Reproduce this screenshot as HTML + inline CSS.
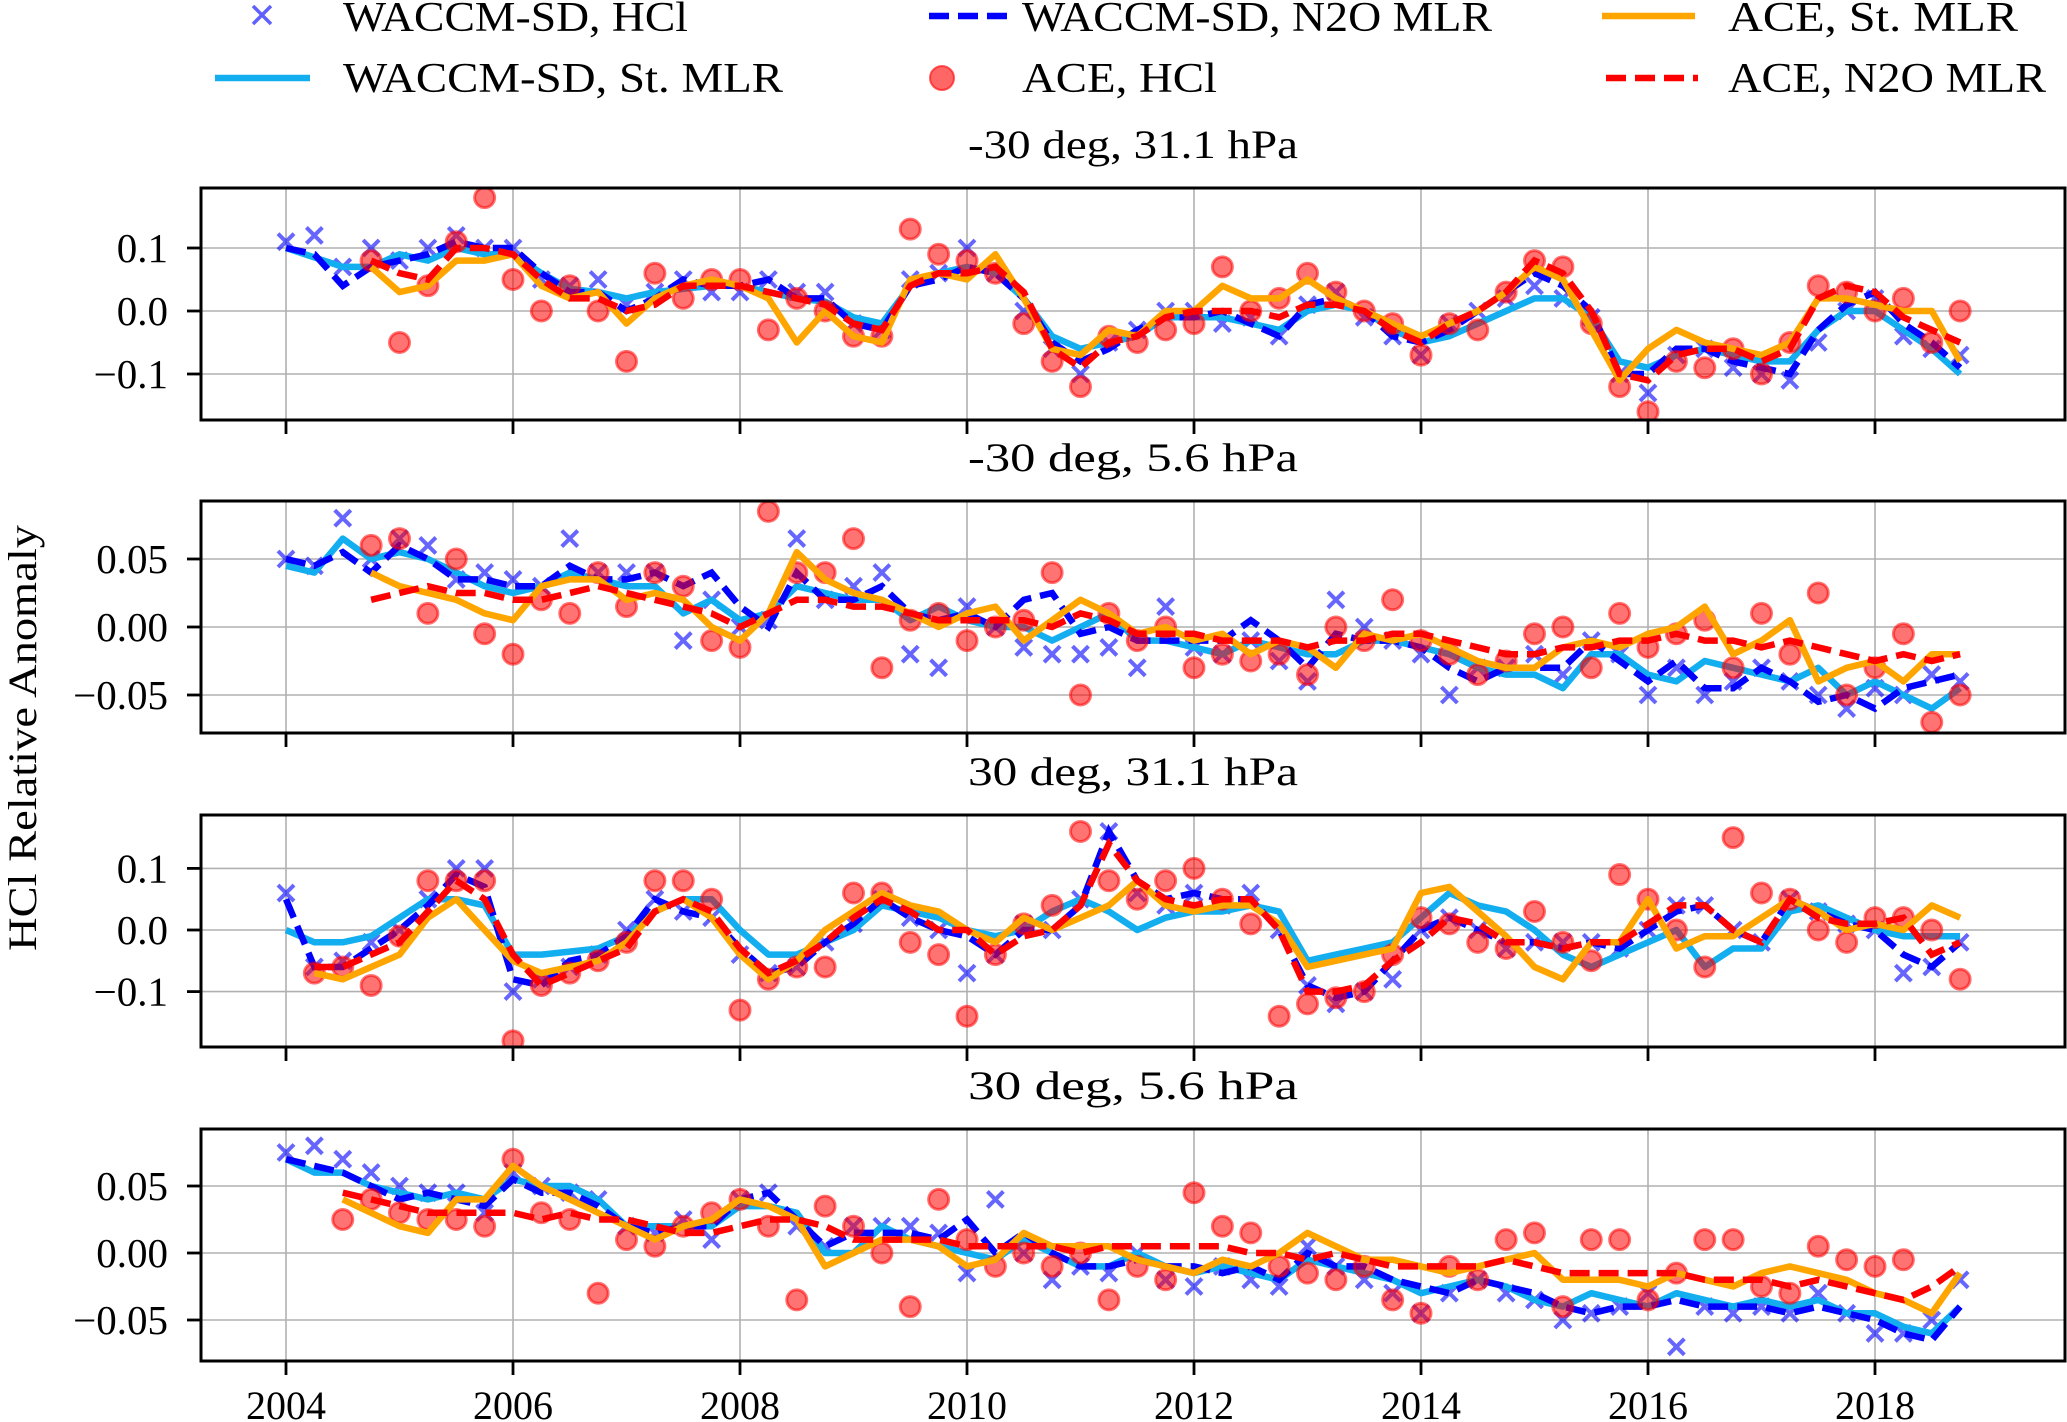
<!DOCTYPE html>
<html><head><meta charset="utf-8"><style>
html,body{margin:0;padding:0;background:#fff;}
svg{display:block;font-family:"Liberation Serif",serif;}
</style></head><body>
<svg id="chart" width="2067" height="1422" viewBox="0 0 2067 1422" xmlns="http://www.w3.org/2000/svg">
<g id="legend">
  <g>
    <path d="M253,6 L271,24 M271,6 L253,24" stroke="#6060ff" stroke-width="3.5"/>
    <text x="343" y="31" font-size="42" textLength="345" lengthAdjust="spacingAndGlyphs">WACCM-SD, HCl</text>
  </g>
  <g>
    <line x1="929" y1="16" x2="1008" y2="16" stroke="#0000ff" stroke-width="6.5" stroke-dasharray="20,9"/>
    <text x="1022" y="31" font-size="42" textLength="470" lengthAdjust="spacingAndGlyphs">WACCM-SD, N2O MLR</text>
  </g>
  <g>
    <line x1="1602" y1="16" x2="1695" y2="16" stroke="#ffa500" stroke-width="6.5"/>
    <text x="1728" y="31" font-size="42" textLength="290" lengthAdjust="spacingAndGlyphs">ACE, St. MLR</text>
  </g>
  <g>
    <line x1="215" y1="78" x2="310" y2="78" stroke="#12aef0" stroke-width="6.5"/>
    <text x="343" y="92" font-size="42" textLength="440" lengthAdjust="spacingAndGlyphs">WACCM-SD, St. MLR</text>
  </g>
  <g>
    <circle cx="942" cy="78" r="12" fill="rgba(255,0,0,0.6)" stroke="rgba(255,0,0,0.6)" stroke-width="2"/>
    <text x="1022" y="92" font-size="42" textLength="195" lengthAdjust="spacingAndGlyphs">ACE, HCl</text>
  </g>
  <g>
    <line x1="1606" y1="78" x2="1698" y2="78" stroke="#ff0000" stroke-width="6.5" stroke-dasharray="20,9"/>
    <text x="1728" y="92" font-size="42" textLength="318" lengthAdjust="spacingAndGlyphs">ACE, N2O MLR</text>
  </g>
</g>
<text transform="translate(36,738) rotate(-90)" text-anchor="middle" font-size="40" textLength="426" lengthAdjust="spacingAndGlyphs">HCl Relative Anomaly</text>
<g id="plots"></g>
</svg>
<script>
// ---- shared data ----
const xTicks = [2004, 2006, 2008, 2010, 2012, 2014, 2016, 2018];
const panelTitles = ["-30 deg, 31.1 hPa", "-30 deg, 5.6 hPa", "30 deg, 31.1 hPa", "30 deg, 5.6 hPa"];
const yTicks1 = [0.1, 0.0, -0.1];
const yTickLabels1 = ["0.1", "0.0", "\u22120.1"];
const yTicks2 = [0.05, 0.0, -0.05];
const yTickLabels2 = ["0.05", "0.00", "\u22120.05"];
const startWaccm = 2004.0;
const step = 0.25;

// ---- panel 1: -30 deg, 31.1 hPa ----
const p1WaccmHCl = [0.11,0.12,0.07,0.1,0.08,0.1,0.12,0.1,0.1,0.05,0.04,0.05,0.01,0.03,0.05,0.03,0.03,0.05,0.03,0.03,-0.02,-0.03,0.05,0.06,0.1,0.06,0.0,-0.06,-0.1,-0.05,-0.03,0.0,0.0,-0.02,-0.01,-0.04,0.01,0.03,-0.01,-0.04,-0.07,-0.02,0.0,0.02,0.04,0.02,-0.01,-0.1,-0.13,-0.07,-0.06,-0.09,-0.1,-0.11,-0.05,0.0,0.02,-0.04,-0.06,-0.07];
const p1WaccmSt = [0.10,0.085,0.07,0.07,0.09,0.08,0.1,0.09,0.09,0.06,0.035,0.03,0.02,0.03,0.035,0.04,0.04,0.03,0.02,0.015,-0.01,-0.02,0.04,0.06,0.07,0.06,0.02,-0.04,-0.06,-0.05,-0.04,-0.01,-0.01,-0.01,-0.02,-0.03,0.0,0.01,0.0,-0.03,-0.05,-0.04,-0.02,0.0,0.02,0.02,-0.01,-0.08,-0.09,-0.07,-0.06,-0.07,-0.08,-0.08,-0.03,0.0,0.0,-0.03,-0.06,-0.1];
const p1WaccmN2O = [0.10,0.09,0.04,0.07,0.08,0.09,0.11,0.1,0.1,0.06,0.03,0.03,0.0,0.02,0.05,0.04,0.04,0.05,0.02,0.02,-0.02,-0.03,0.04,0.05,0.07,0.06,0.02,-0.05,-0.08,-0.06,-0.03,-0.01,-0.01,0.0,-0.02,-0.04,0.01,0.02,0.0,-0.04,-0.05,-0.03,0.0,0.03,0.06,0.04,0.0,-0.1,-0.1,-0.06,-0.06,-0.08,-0.09,-0.1,-0.03,0.01,0.03,-0.02,-0.05,-0.09];
const p1AceStart = 2004.75;
const p1AceSt = [0.07,0.03,0.04,0.08,0.08,0.09,0.04,0.02,0.03,-0.02,0.02,0.04,0.05,0.04,0.02,-0.05,0.0,-0.04,-0.05,0.05,0.06,0.05,0.09,0.02,-0.06,-0.07,-0.03,-0.04,0.0,0.0,0.04,0.02,0.02,0.05,0.02,0.0,-0.02,-0.04,-0.02,0.0,0.03,0.07,0.05,-0.03,-0.11,-0.06,-0.03,-0.05,-0.06,-0.07,-0.05,0.02,0.02,0.01,0.0,0.0,-0.08];
const p1AceN2O = [0.08,0.06,0.05,0.1,0.1,0.09,0.05,0.02,0.02,0.0,0.01,0.04,0.04,0.04,0.03,0.02,0.01,-0.02,-0.03,0.04,0.06,0.06,0.07,0.03,-0.06,-0.09,-0.05,-0.04,-0.01,0.0,0.0,0.0,-0.01,0.01,0.01,0.0,-0.03,-0.05,-0.02,0.0,0.03,0.08,0.06,0.0,-0.1,-0.11,-0.07,-0.06,-0.06,-0.08,-0.06,0.02,0.04,0.03,-0.01,-0.03,-0.05];
const p1AceHCl = [0.08,-0.05,0.04,0.11,0.18,0.05,0.0,0.04,0.0,-0.08,0.06,0.02,0.05,0.05,-0.03,0.02,0.0,-0.04,-0.04,0.13,0.09,0.08,0.06,-0.02,-0.08,-0.12,-0.04,-0.05,-0.03,-0.02,0.07,0.0,0.02,0.06,0.03,0.0,-0.02,-0.07,-0.02,-0.03,0.03,0.08,0.07,-0.02,-0.12,-0.16,-0.08,-0.09,-0.06,-0.1,-0.05,0.04,0.03,0.0,0.02,-0.05,0.0];

// ---- panel 2: -30 deg, 5.6 hPa ----
const p2WaccmHCl = [0.05,0.045,0.08,0.05,0.065,0.06,0.035,0.04,0.035,0.03,0.065,0.04,0.04,0.04,-0.01,0.02,0.0,0.005,0.065,0.02,0.03,0.04,-0.02,-0.03,0.015,0.0,-0.015,-0.02,-0.02,-0.015,-0.03,0.015,-0.015,-0.02,-0.01,-0.025,-0.04,0.02,0.0,-0.01,-0.02,-0.05,-0.03,-0.03,-0.02,-0.035,-0.01,-0.02,-0.05,-0.03,-0.05,-0.04,-0.03,-0.04,-0.05,-0.06,-0.045,-0.05,-0.035,-0.04];
const p2WaccmSt = [0.045,0.04,0.065,0.05,0.055,0.05,0.04,0.03,0.025,0.03,0.04,0.035,0.03,0.03,0.01,0.02,0.005,0.01,0.03,0.025,0.02,0.02,0.005,0.015,0.005,0.0,0.0,-0.01,0.0,0.01,-0.01,-0.01,-0.015,-0.02,-0.01,-0.015,-0.02,-0.02,-0.01,-0.01,-0.015,-0.02,-0.03,-0.035,-0.035,-0.045,-0.02,-0.02,-0.035,-0.04,-0.025,-0.03,-0.035,-0.04,-0.03,-0.05,-0.04,-0.05,-0.06,-0.045];
const p2WaccmN2O = [0.05,0.045,0.055,0.04,0.06,0.05,0.035,0.035,0.03,0.03,0.045,0.035,0.035,0.04,0.03,0.04,0.015,0.0,0.04,0.02,0.02,0.03,0.01,0.005,0.01,0.0,0.02,0.025,-0.005,0.0,-0.01,-0.01,-0.01,-0.01,0.005,-0.01,-0.03,-0.005,-0.01,-0.01,-0.015,-0.03,-0.04,-0.03,-0.03,-0.03,-0.01,-0.025,-0.04,-0.025,-0.045,-0.045,-0.03,-0.04,-0.055,-0.05,-0.06,-0.045,-0.04,-0.035];
const p2AceStart = 2004.75;
const p2AceSt = [0.04,0.03,0.025,0.02,0.01,0.005,0.03,0.035,0.035,0.02,0.025,0.02,0.0,-0.01,0.01,0.055,0.035,0.025,0.02,0.01,0.0,0.01,0.015,-0.01,0.005,0.02,0.01,-0.005,0.0,-0.01,-0.005,-0.02,-0.01,-0.015,-0.03,-0.005,-0.01,-0.005,-0.015,-0.025,-0.03,-0.03,-0.015,-0.01,-0.015,-0.005,0.0,0.015,-0.02,-0.01,0.005,-0.04,-0.03,-0.025,-0.04,-0.02,-0.02];
const p2AceN2O = [0.02,0.025,0.03,0.025,0.025,0.02,0.02,0.025,0.03,0.025,0.02,0.015,0.01,0.0,0.01,0.02,0.02,0.015,0.015,0.01,0.005,0.005,0.005,0.005,0.0,0.01,0.005,-0.005,-0.005,-0.005,-0.01,-0.01,-0.01,-0.015,-0.01,-0.01,-0.005,-0.005,-0.01,-0.015,-0.02,-0.02,-0.015,-0.015,-0.01,-0.01,-0.005,-0.01,-0.01,-0.015,-0.01,-0.015,-0.02,-0.025,-0.02,-0.025,-0.02];
const p2AceHCl = [0.06,0.065,0.01,0.05,-0.005,-0.02,0.02,0.01,0.04,0.015,0.04,0.03,-0.01,-0.015,0.085,0.04,0.04,0.065,-0.03,0.005,0.01,-0.01,0.0,0.005,0.04,-0.05,0.01,-0.01,0.0,-0.03,-0.02,-0.025,-0.02,-0.035,0.0,-0.01,0.02,-0.01,-0.02,-0.035,-0.025,-0.005,0.0,-0.03,0.01,-0.015,-0.005,0.005,-0.03,0.01,-0.02,0.025,-0.05,-0.03,-0.005,-0.07,-0.05];

// ---- panel 3: 30 deg, 31.1 hPa ----
const p3WaccmHCl = [0.06,-0.06,-0.05,-0.02,0.0,0.05,0.1,0.1,-0.1,-0.08,-0.06,-0.04,0.0,0.05,0.03,0.02,-0.04,-0.07,-0.06,-0.02,0.01,0.05,0.02,0.0,-0.07,-0.04,0.01,0.0,0.05,0.16,0.06,0.04,0.06,0.04,0.06,0.0,-0.09,-0.12,-0.1,-0.08,0.0,0.02,0.0,-0.03,-0.02,-0.02,-0.02,-0.03,0.0,0.04,0.04,0.0,-0.02,0.05,0.03,0.01,0.0,-0.07,-0.06,-0.02];
const p3WaccmSt = [0.0,-0.02,-0.02,-0.01,0.02,0.05,0.05,0.04,-0.04,-0.04,-0.035,-0.03,-0.01,0.03,0.05,0.05,0.0,-0.04,-0.04,-0.02,0.0,0.04,0.03,0.02,0.0,-0.01,0.0,0.03,0.05,0.03,0.0,0.02,0.03,0.03,0.04,0.03,-0.05,-0.04,-0.03,-0.02,0.02,0.06,0.04,0.03,0.0,-0.04,-0.06,-0.04,-0.02,0.0,-0.06,-0.03,-0.03,0.03,0.04,0.02,0.0,-0.01,-0.01,-0.01];
const p3WaccmN2O = [0.05,-0.06,-0.06,-0.03,0.0,0.04,0.09,0.07,-0.08,-0.09,-0.05,-0.04,-0.01,0.05,0.03,0.02,-0.03,-0.07,-0.06,-0.02,0.01,0.05,0.02,0.0,-0.01,-0.04,0.0,0.0,0.04,0.16,0.08,0.05,0.06,0.05,0.05,0.0,-0.09,-0.11,-0.1,-0.05,0.0,0.02,0.0,-0.02,-0.02,-0.03,-0.02,-0.03,0.0,0.03,0.04,0.0,-0.02,0.05,0.03,0.01,0.0,-0.04,-0.06,-0.02];
const p3AceStart = 2004.25;
const p3AceSt = [-0.07,-0.08,-0.06,-0.04,0.02,0.05,0.0,-0.05,-0.07,-0.06,-0.05,-0.02,0.03,0.05,0.02,-0.04,-0.08,-0.05,0.0,0.03,0.06,0.04,0.03,0.0,-0.02,0.02,0.0,0.02,0.04,0.08,0.04,0.03,0.04,0.04,0.01,-0.06,-0.05,-0.04,-0.03,0.06,0.07,0.03,-0.01,-0.06,-0.08,-0.02,-0.02,0.05,-0.03,-0.01,-0.01,0.02,0.05,0.03,0.0,0.01,0.0,0.04,0.02];
const p3AceN2O = [-0.06,-0.06,-0.04,-0.02,0.03,0.08,0.05,-0.04,-0.09,-0.07,-0.05,-0.03,0.03,0.05,0.03,-0.03,-0.07,-0.05,-0.02,0.02,0.05,0.03,0.0,0.0,-0.04,-0.01,0.0,0.04,0.14,0.08,0.05,0.04,0.05,0.05,0.0,-0.1,-0.1,-0.09,-0.05,-0.02,0.02,0.01,-0.02,-0.02,-0.03,-0.02,-0.02,0.01,0.04,0.04,0.0,-0.02,0.05,0.02,0.01,0.01,0.02,-0.04,-0.02];
const p3AceHCl = [-0.07,-0.06,-0.09,-0.01,0.08,0.08,0.08,-0.18,-0.09,-0.07,-0.05,-0.02,0.08,0.08,0.05,-0.13,-0.08,-0.06,-0.06,0.06,0.06,-0.02,-0.04,-0.14,-0.04,0.01,0.04,0.16,0.08,0.05,0.08,0.1,0.05,0.01,-0.14,-0.12,-0.11,-0.1,-0.04,0.02,0.01,-0.02,-0.03,0.03,-0.02,-0.05,0.09,0.05,0.0,-0.06,0.15,0.06,0.05,0.0,-0.02,0.02,0.02,0.0,-0.08];

// ---- panel 4: 30 deg, 5.6 hPa ----
const p4WaccmHCl = [0.075,0.08,0.07,0.06,0.05,0.045,0.045,0.03,0.06,0.05,0.045,0.04,0.02,0.015,0.025,0.01,0.04,0.045,0.02,0.005,0.02,0.02,0.02,0.015,-0.015,0.04,0.0,-0.02,-0.01,-0.015,0.0,-0.02,-0.025,-0.01,-0.02,-0.025,0.005,-0.01,-0.02,-0.03,-0.045,-0.03,-0.02,-0.03,-0.035,-0.05,-0.045,-0.04,-0.03,-0.07,-0.04,-0.045,-0.04,-0.045,-0.03,-0.045,-0.06,-0.06,-0.05,-0.02];
const p4WaccmSt = [0.07,0.06,0.06,0.05,0.045,0.04,0.045,0.04,0.055,0.05,0.05,0.04,0.02,0.02,0.02,0.02,0.035,0.035,0.03,0.0,0.0,0.02,0.01,0.005,0.0,-0.005,0.01,0.0,-0.01,-0.01,0.0,-0.01,-0.015,-0.01,-0.015,-0.02,-0.005,-0.01,-0.015,-0.02,-0.03,-0.025,-0.02,-0.025,-0.035,-0.04,-0.03,-0.035,-0.04,-0.03,-0.035,-0.04,-0.035,-0.04,-0.035,-0.045,-0.045,-0.055,-0.06,-0.04];
const p4WaccmN2O = [0.07,0.065,0.06,0.05,0.04,0.045,0.04,0.035,0.055,0.045,0.045,0.035,0.02,0.015,0.02,0.02,0.04,0.045,0.025,0.005,0.015,0.015,0.015,0.01,0.025,0.0,0.015,0.0,-0.01,-0.01,-0.005,-0.01,-0.01,-0.015,-0.01,-0.02,0.0,-0.01,-0.01,-0.02,-0.025,-0.03,-0.02,-0.025,-0.03,-0.04,-0.045,-0.04,-0.04,-0.035,-0.04,-0.04,-0.04,-0.045,-0.04,-0.045,-0.05,-0.06,-0.065,-0.04];
const p4AceStart = 2004.5;
const p4AceSt = [0.04,0.03,0.02,0.015,0.04,0.04,0.065,0.05,0.04,0.03,0.02,0.01,0.02,0.025,0.04,0.035,0.025,-0.01,0.0,0.01,0.01,0.005,-0.01,-0.005,0.015,0.005,0.005,0.005,-0.005,-0.01,-0.015,-0.005,-0.01,0.0,0.015,0.005,-0.005,-0.005,-0.01,-0.015,-0.01,-0.005,0.0,-0.02,-0.02,-0.02,-0.025,-0.015,-0.02,-0.025,-0.015,-0.01,-0.015,-0.02,-0.03,-0.035,-0.045,-0.015];
const p4AceN2O = [0.045,0.04,0.035,0.03,0.03,0.03,0.03,0.025,0.03,0.025,0.025,0.02,0.015,0.015,0.02,0.025,0.025,0.02,0.01,0.01,0.01,0.01,0.005,0.005,0.005,0.005,0.0,0.005,0.005,0.005,0.005,0.005,0.0,0.0,-0.005,0.0,-0.005,-0.01,-0.01,-0.01,-0.01,-0.005,-0.01,-0.015,-0.015,-0.015,-0.015,-0.015,-0.02,-0.02,-0.02,-0.025,-0.02,-0.025,-0.03,-0.035,-0.025,-0.01];
const p4AceHCl = [0.025,0.04,0.03,0.025,0.025,0.02,0.07,0.03,0.025,-0.03,0.01,0.005,0.02,0.03,0.04,0.02,-0.035,0.035,0.02,0.0,-0.04,0.04,0.01,-0.01,0.0,-0.01,0.0,-0.035,-0.01,-0.02,0.045,0.02,0.015,-0.01,-0.015,-0.02,-0.01,-0.035,-0.045,-0.01,-0.02,0.01,0.015,-0.04,0.01,0.01,-0.035,-0.015,0.01,0.01,-0.025,-0.03,0.005,-0.005,-0.01,-0.005];

// ---- layout (not data) ----
const NS = "http://www.w3.org/2000/svg";
const XL = 201, XR = 2065;
const xScale = t => 286 + (t - 2004) * 113.5;
const panels = [
  {top:188, bot:420, y0:311, k:630, ticks:yTicks1, labels:yTickLabels1, w:p1WaccmHCl, s:p1WaccmSt, n:p1WaccmN2O, as:p1AceStart, aSt:p1AceSt, aN:p1AceN2O, aH:p1AceHCl},
  {top:501, bot:733, y0:627, k:1360, ticks:yTicks2, labels:yTickLabels2, w:p2WaccmHCl, s:p2WaccmSt, n:p2WaccmN2O, as:p2AceStart, aSt:p2AceSt, aN:p2AceN2O, aH:p2AceHCl},
  {top:815, bot:1047, y0:930, k:616, ticks:yTicks1, labels:yTickLabels1, w:p3WaccmHCl, s:p3WaccmSt, n:p3WaccmN2O, as:p3AceStart, aSt:p3AceSt, aN:p3AceN2O, aH:p3AceHCl},
  {top:1129, bot:1361, y0:1253, k:1340, ticks:yTicks2, labels:yTickLabels2, w:p4WaccmHCl, s:p4WaccmSt, n:p4WaccmN2O, as:p4AceStart, aSt:p4AceSt, aN:p4AceN2O, aH:p4AceHCl}
];
function mk(tag, attrs, parent){
  const e = document.createElementNS(NS, tag);
  for (const k in attrs) e.setAttribute(k, attrs[k]);
  parent.appendChild(e);
  return e;
}
function linePath(vals, start, ys){
  return vals.map((v,i)=>(i?"L":"M")+xScale(start+i*step).toFixed(1)+","+ys(v).toFixed(1)).join(" ");
}
const root = document.getElementById("plots");
panels.forEach((p, pi) => {
  const ys = v => p.y0 - v * p.k;
  const g = mk("g", {}, root);
  
  
  const title = mk("text", {x:(XL+XR)/2, y:p.top-30, "text-anchor":"middle", "font-size":"40", textLength:"330", lengthAdjust:"spacingAndGlyphs"}, g);
  title.textContent = panelTitles[pi];
  
  
  const clip = mk("clipPath", {id:"clip"+pi}, g);
  mk("rect", {x:XL, y:p.top, width:XR-XL, height:p.bot-p.top}, clip);
  xTicks.forEach(t => {
    const gl = mk("line", {x1:xScale(t), x2:xScale(t), y1:p.top, y2:p.bot, stroke:"#b0b0b0", "stroke-width":"1.6"}, g);
    
    
    const tk = mk("line", {x1:xScale(t), x2:xScale(t), y1:p.bot, y2:p.bot+14, stroke:"#000", "stroke-width":"2.8"}, g);
    
    
    if (pi === 3) {
      const lb = mk("text", {x:xScale(t), y:1419, "text-anchor":"middle", "font-size":"40"}, g);
      lb.textContent = t;
      
      
    }
  });
  p.ticks.forEach((v, i) => {
    const gl = mk("line", {x1:XL, x2:XR, y1:ys(v), y2:ys(v), stroke:"#b0b0b0", "stroke-width":"1.6"}, g);
    
    
    const tk = mk("line", {x1:XL-14, x2:XL, y1:ys(v), y2:ys(v), stroke:"#000", "stroke-width":"2.8"}, g);
    
    
    const lb = mk("text", {x:168, y:ys(v)+14, "text-anchor":"end", "font-size":"41"}, g);
    lb.textContent = p.labels[i];
    
    
  });
  const data = mk("g", {"clip-path":"url(#clip"+pi+")"}, g);
  
  
  p.w.forEach((v, i) => {
    const cx = xScale(startWaccm + i*step), cy = ys(v);
    const m = mk("path", {d:`M${cx-8},${cy-8} L${cx+8},${cy+8} M${cx+8},${cy-8} L${cx-8},${cy+8}`, stroke:"rgba(0,0,255,0.6)", "stroke-width":"4"}, data);
    
    
  });
  const l1 = mk("path", {d:linePath(p.s, startWaccm, ys), fill:"none", stroke:"#12aef0", "stroke-width":"6.5", "stroke-linejoin":"round"}, data);
  
  
  const l2 = mk("path", {d:linePath(p.n, startWaccm, ys), fill:"none", stroke:"#0000ff", "stroke-width":"6.5", "stroke-dasharray":"20,9"}, data);
  
  
  p.aH.forEach((v, i) => {
    const c = mk("circle", {cx:xScale(p.as + i*step), cy:ys(v), r:"10", fill:"rgba(255,0,0,0.55)", stroke:"rgba(255,0,0,0.55)", "stroke-width":"3"}, data);
    
    
  });
  const l3 = mk("path", {d:linePath(p.aSt, p.as, ys), fill:"none", stroke:"#ffa500", "stroke-width":"6.5", "stroke-linejoin":"round"}, data);
  
  
  const l4 = mk("path", {d:linePath(p.aN, p.as, ys), fill:"none", stroke:"#ff0000", "stroke-width":"6.5", "stroke-dasharray":"20,9"}, data);
  
  
  const fr = mk("rect", {x:XL, y:p.top, width:XR-XL, height:p.bot-p.top, fill:"none", stroke:"#000", "stroke-width":"3"}, g);
  
  
});
</script>
</body></html>
